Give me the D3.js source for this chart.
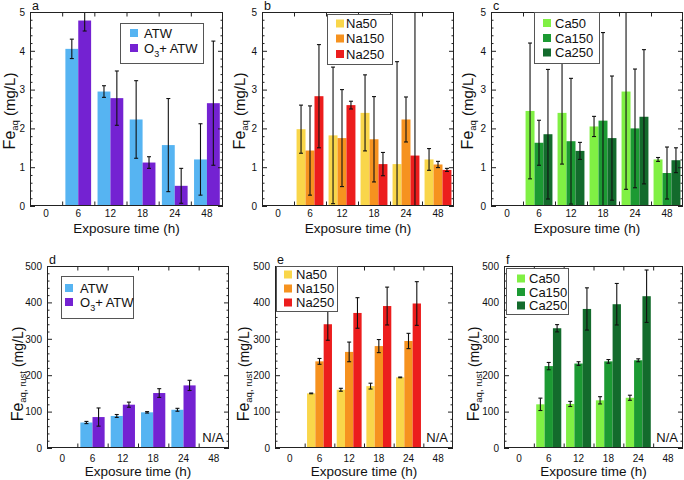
<!DOCTYPE html>
<html><head><meta charset="utf-8">
<script src="https://cdn.jsdelivr.net/npm/d3@7"></script>
<style>
body{margin:0;background:#fff;}
svg{display:block;font-family:"Liberation Sans",Arial,Helvetica,sans-serif;}
</style></head><body>
<svg id="chart" width="684" height="480"></svg>
<script>
const categories = ["0","6","12","18","24","48"];
const yTicksTop = [0,1,2,3,4,5];
const yTicksBottom = [0,100,200,300,400,500];

// panel a (Fe_aq, mg/L)
const atwSeries = ["ATW","O3+ATW"];
const aATW    = [null,4.05,2.95,2.23,1.57,1.20];
const aATWErr = [null,0.25,0.15,1.00,1.20,0.92];
const aO3     = [null,4.78,2.78,1.12,0.52,2.65];
const aO3Err  = [null,0.27,0.70,0.15,0.45,1.60];
// panel b
const naSeries = ["Na50","Na150","Na250"];
const bNa50     = [null,1.98,1.82,2.40,1.08,1.20];
const bNa50Err  = [null,0.62,1.76,0.98,2.64,0.28];
const bNa150    = [null,1.43,1.75,1.72,2.23,1.07];
const bNa150Err = [null,1.15,1.25,1.10,0.58,0.08];
const bNa250    = [null,2.83,2.60,1.08,1.30,0.93];
const bNa250Err = [null,1.33,0.10,0.30,4.20,0.04];
// panel c
const caSeries = ["Ca50","Ca150","Ca250"];
const cCa50     = [null,2.45,2.40,2.05,2.95,1.20];
const cCa50Err  = [null,1.75,1.32,0.26,2.52,0.05];
const cCa150    = [null,1.63,1.67,2.20,2.00,0.85];
const cCa150Err = [null,0.58,1.62,2.27,1.53,0.67];
const cCa250    = [null,1.85,1.42,1.75,2.30,1.18];
const cCa250Err = [null,1.67,0.22,1.60,1.73,0.32];
// panel d (Fe_aq,rust, mg/L)
const dATW    = [null,70,88,98,105,null];
const dATWErr = [null,3,4,2,4,null];
const dO3     = [null,85,119,151,172,null];
const dO3Err  = [null,25,7,12,14,null];
// panel e
const eNa50     = [null,150,160,170,194,null];
const eNa50Err  = [null,1,4,8,1,null];
const eNa150    = [null,238,264,280,294,null];
const eNa150Err = [null,8,27,18,21,null];
const eNa250    = [null,340,371,390,397,null];
const eNa250Err = [null,44,42,52,60,null];
// panel f
const fCa50     = [null,120,121,131,138,null];
const fCa50Err  = [null,17,7,10,7,null];
const fCa150    = [null,225,232,238,241,null];
const fCa150Err = [null,10,5,5,4,null];
const fCa250    = [null,329,382,395,417,null];
const fCa250Err = [null,10,58,57,72,null];

const atwColors = ["#56b4f2","#7422d2"];
const naColors  = ["#f9d64a","#f6921f","#ec1d1d"];
const caColors  = ["#80f044","#1c9a33","#136b2c"];

const panels = [
 {letter:"a", l:30, r:223, t:12, b:206, yMax:5, ticks:yTicksTop, minor:0.2, series:atwSeries, colors:atwColors,
  values:[aATW,aO3], errs:[aATWErr,aO3Err], sub:"aq", labX:14.5, labY:111,
  leg:{x:120,y:23,w:83,h:40,rows:[33,48],sx:130,tx:144}},
 {letter:"b", l:262, r:454, t:12, b:206, yMax:5, ticks:yTicksTop, minor:0.2, series:naSeries, colors:naColors,
  values:[bNa50,bNa150,bNa250], errs:[bNa50Err,bNa150Err,bNa250Err], sub:"aq", labX:245, labY:111,
  leg:{x:327,y:14,w:65,h:50,rows:[23.5,38.5,54],sx:336,tx:346}},
 {letter:"c", l:491, r:683, t:12, b:206, yMax:5, ticks:yTicksTop, minor:0.2, series:caSeries, colors:caColors,
  values:[cCa50,cCa150,cCa250], errs:[cCa50Err,cCa150Err,cCa250Err], sub:"aq", labX:473, labY:111,
  leg:{x:534,y:12,w:65,h:51,rows:[23,38,52.5],sx:543,tx:555}},
 {letter:"d", l:47, r:229, t:266, b:448, yMax:500, ticks:yTicksBottom, minor:20, series:atwSeries, colors:atwColors,
  values:[dATW,dO3], errs:[dATWErr,dO3Err], sub:"aq, rust", labX:23, labY:374, na:true,
  leg:{x:61,y:276,w:72,h:42,rows:[288,302],sx:65,tx:80}},
 {letter:"e", l:275, r:453, t:266, b:448, yMax:500, ticks:yTicksBottom, minor:20, series:naSeries, colors:naColors,
  values:[eNa50,eNa150,eNa250], errs:[eNa50Err,eNa150Err,eNa250Err], sub:"aq, rust", labX:249, labY:374, na:true,
  leg:{x:276,y:266,w:61,h:45,rows:[274.5,288.5,302.5],sx:284,tx:296}},
 {letter:"f", l:504, r:683, t:266, b:448, yMax:500, ticks:yTicksBottom, minor:20, series:caSeries, colors:caColors,
  values:[fCa50,fCa150,fCa250], errs:[fCa50Err,fCa150Err,fCa250Err], sub:"aq, rust", labX:479, labY:374, na:true,
  leg:{x:506,y:268,w:62,h:46,rows:[278.5,292,305.5],sx:517,tx:529}}
];

const svg = d3.select("#chart");

panels.forEach((p, pi) => {
  const g = svg.append("g");
  const x = d3.scaleBand().domain(categories).range([p.l, p.r]).padding(0);
  const edge = d3.scaleLinear().domain([0, categories.length]).range([p.l, p.r]);
  const y = d3.scaleLinear().domain([0, p.yMax]).range([p.b, p.t]);
  const groupFrac = p.series.length === 2 ? 0.80 : 0.84;
  const bw = x.bandwidth();
  const x1 = d3.scaleBand().domain(p.series)
     .range([bw*(1-groupFrac)/2, bw*(1+groupFrac)/2]).padding(0);

  const clipId = "clip" + pi;
  svg.append("clipPath").attr("id", clipId).append("rect")
     .attr("x", p.l).attr("y", p.t).attr("width", p.r - p.l).attr("height", p.b - p.t);

  const plot = g.append("g").attr("clip-path", `url(#${clipId})`);

  p.series.forEach((s, si) => {
    const vals = p.values[si], errs = p.errs[si];
    const rows = categories.map((c, i) => ({c, v: vals[i], e: errs[i]})).filter(d => d.v != null);
    plot.selectAll(null).data(rows).enter().append("rect")
      .attr("x", d => x(d.c) + x1(s))
      .attr("y", d => y(d.v))
      .attr("width", x1.bandwidth())
      .attr("height", d => y(0) - y(d.v))
      .attr("fill", p.colors[si]);
    const cap = 2;
    const cx = d => x(d.c) + x1(s) + x1.bandwidth()/2;
    const eb = plot.selectAll(null).data(rows).enter().append("g")
      .attr("stroke", "#111").attr("stroke-width", 1.1);
    eb.append("line")
      .attr("x1", cx).attr("x2", cx)
      .attr("y1", d => y(d.v - d.e)).attr("y2", d => y(d.v + d.e));
    eb.append("line")
      .attr("x1", d => cx(d) - cap).attr("x2", d => cx(d) + cap)
      .attr("y1", d => y(d.v + d.e)).attr("y2", d => y(d.v + d.e));
    eb.append("line")
      .attr("x1", d => cx(d) - cap).attr("x2", d => cx(d) + cap)
      .attr("y1", d => y(d.v - d.e)).attr("y2", d => y(d.v - d.e));
  });

  const minorVals = d3.range(0, p.yMax + 1e-9, p.minor).filter(v => !p.ticks.some(t => Math.abs(t - v) < 1e-9));
  const styleAxis = sel => { sel.select(".domain").remove(); sel.selectAll("line").attr("stroke", "#222"); };
  const fmt = d3.format("d");

  g.append("g").attr("transform", `translate(${p.l},0)`)
    .call(d3.axisLeft(y).tickValues(minorVals).tickSizeInner(-2.5).tickSizeOuter(0).tickFormat(""))
    .call(styleAxis);
  g.append("g").attr("transform", `translate(${p.r},0)`)
    .call(d3.axisRight(y).tickValues(minorVals).tickSizeInner(-2.5).tickSizeOuter(0).tickFormat(""))
    .call(styleAxis);
  g.append("g").attr("transform", `translate(${p.l},0)`)
    .call(d3.axisLeft(y).tickValues(p.ticks).tickFormat(fmt).tickSizeInner(-5).tickSizeOuter(0).tickPadding(5))
    .call(styleAxis)
    .call(sel => sel.selectAll("text").attr("font-size", 10).attr("fill", "#111")
      .attr("font-family", '"Liberation Sans",Arial,sans-serif'));
  g.append("g").attr("transform", `translate(${p.r},0)`)
    .call(d3.axisRight(y).tickValues(p.ticks).tickSizeInner(-5).tickSizeOuter(0).tickFormat(""))
    .call(styleAxis);
  const edgeVals = d3.range(1, categories.length);
  g.append("g").attr("transform", `translate(0,${p.b})`)
    .call(d3.axisBottom(edge).tickValues(edgeVals).tickSizeInner(-4.5).tickSizeOuter(0).tickFormat(""))
    .call(styleAxis);
  g.append("g").attr("transform", `translate(0,${p.t})`)
    .call(d3.axisTop(edge).tickValues(edgeVals).tickSizeInner(-4.5).tickSizeOuter(0).tickFormat(""))
    .call(styleAxis);
  g.append("g").attr("transform", `translate(0,${p.b})`)
    .call(d3.axisBottom(x).tickSize(0).tickPadding(p.t < 100 ? 4 : 7))
    .call(sel => sel.select(".domain").remove())
    .call(sel => sel.selectAll("text").attr("font-size", 10).attr("fill", "#111")
      .attr("font-family", '"Liberation Sans",Arial,sans-serif'));

  g.append("rect").attr("x", p.l + 0.5).attr("y", p.t + 0.5)
    .attr("width", p.r - p.l - 1).attr("height", p.b - p.t - 1)
    .attr("fill", "none").attr("stroke", "#222").attr("stroke-width", 1);

  g.append("text").attr("x", p.l + 2).attr("y", p.t - 2)
    .attr("font-size", 12.5).attr("fill", "#111").text(p.letter);

  g.append("text").attr("x", (p.l + p.r) / 2).attr("y", p.b + (p.t < 100 ? 27 : 28))
    .attr("text-anchor", "middle").attr("font-size", 13.5).attr("fill", "#111")
    .text("Exposure time (h)");

  const yt = g.append("text").attr("transform", `translate(${p.labX},${p.labY}) rotate(-90)`)
    .attr("text-anchor", "middle").attr("fill", "#111");
  yt.append("tspan").attr("font-size", 16).text("Fe");
  yt.append("tspan").attr("font-size", 9.5).attr("dy", 3).text(p.sub);
  yt.append("tspan").attr("font-size", p.t < 100 ? 15 : 14).attr("dy", -3).text(" (mg/L)");

  if (p.na) {
    g.append("text").attr("x", p.r - 5).attr("y", p.b - 6).attr("text-anchor", "end")
      .attr("font-size", 13).attr("fill", "#111").text("N/A");
  }

  const L = p.leg;
  g.append("rect").attr("x", L.x + 0.5).attr("y", L.y + 0.5).attr("width", L.w).attr("height", L.h)
    .attr("fill", "#fff").attr("stroke", "#555").attr("stroke-width", 1);
  p.series.forEach((s, si) => {
    g.append("rect").attr("x", L.sx).attr("y", L.rows[si] - 4).attr("width", 8).attr("height", 8)
      .attr("fill", p.colors[si]);
    const t = g.append("text").attr("x", L.tx).attr("y", L.rows[si] + 4.5)
      .attr("font-size", 13).attr("fill", "#111");
    if (s === "O3+ATW") {
      t.append("tspan").text("O");
      t.append("tspan").attr("font-size", 9).attr("dy", 4).text("3");
      t.append("tspan").attr("dy", -4).text("+ ATW");
    } else {
      t.text(s);
    }
  });
});
</script>
</body></html>
